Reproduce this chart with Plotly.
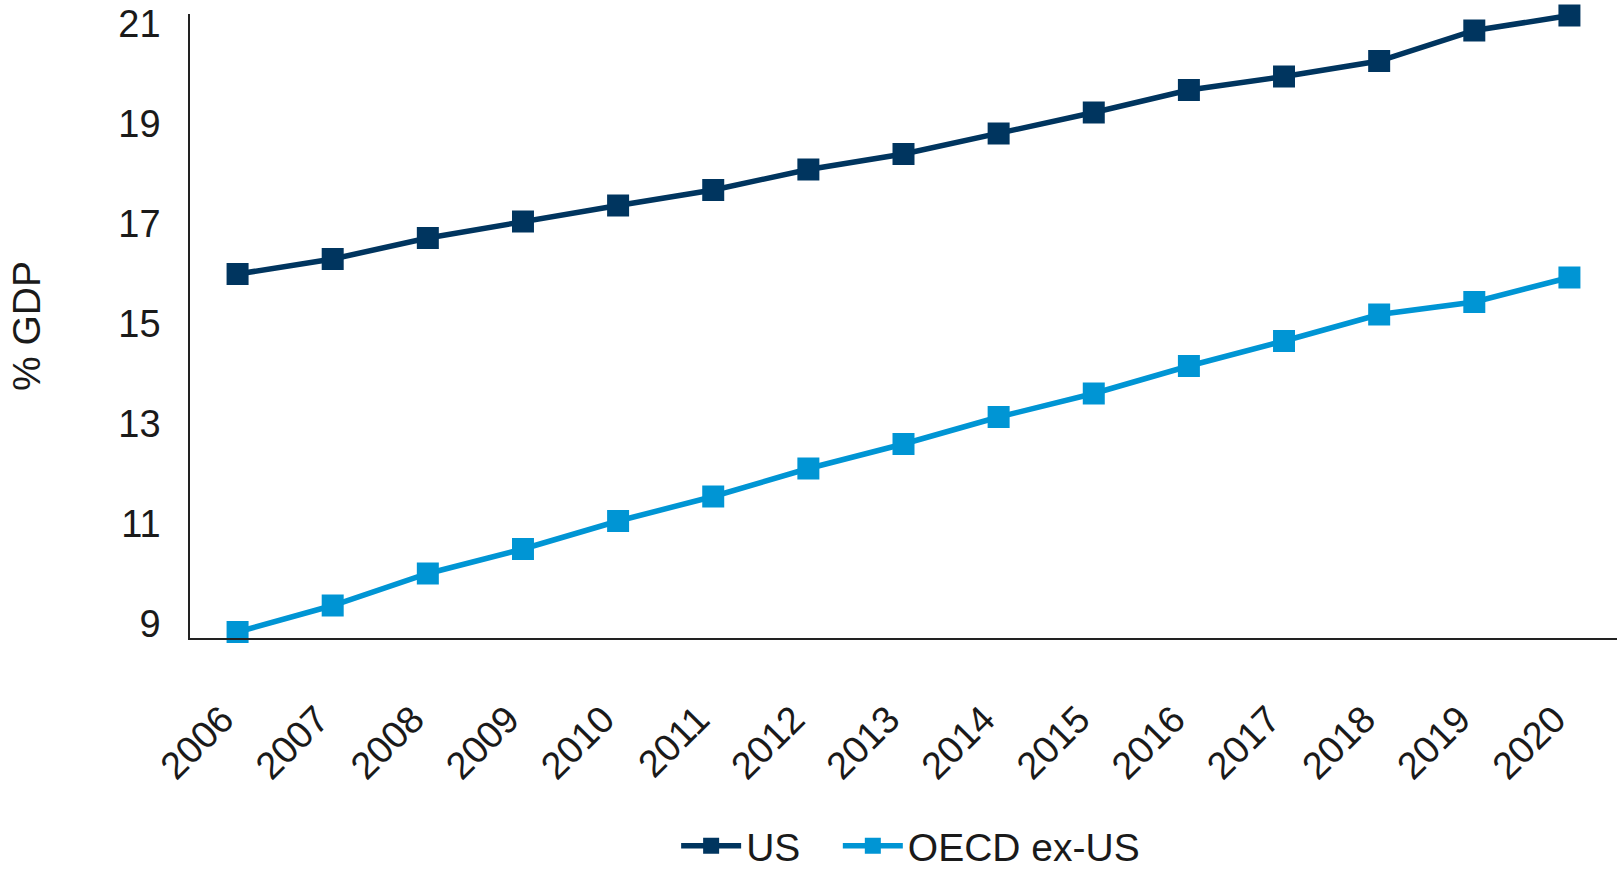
import plotly.graph_objects as go

years = ["2006", "2007", "2008", "2009", "2010", "2011", "2012", "2013",
         "2014", "2015", "2016", "2017", "2018", "2019", "2020"]
us = [16.0, 16.3, 16.72, 17.05, 17.37, 17.68, 18.09, 18.40,
      18.81, 19.23, 19.68, 19.95, 20.26, 20.87, 21.17]
oecd_ex_us = [8.84, 9.37, 10.01, 10.50, 11.06, 11.55, 12.11, 12.60,
              13.14, 13.61, 14.16, 14.66, 15.19, 15.44, 15.93]
y_ticks = [9, 11, 13, 15, 17, 19, 21]

US_COLOR = "#00355f"
OECD_COLOR = "#0095d4"
FONT = "Liberation Sans, Arial, Helvetica, sans-serif"
TXT = "#1a1a1a"
NB = "\u00a0"

fig = go.Figure()
fig.add_trace(go.Scatter(
    x=years, y=us, name="US" + NB * 3, mode="lines+markers",
    line=dict(color=US_COLOR, width=5.5),
    marker=dict(symbol="square", size=22, color=US_COLOR),
    cliponaxis=False,
))
fig.add_trace(go.Scatter(
    x=years, y=oecd_ex_us, name="OECD ex-US", mode="lines+markers",
    line=dict(color=OECD_COLOR, width=5.5),
    marker=dict(symbol="square", size=22, color=OECD_COLOR),
    cliponaxis=False,
))

fig.update_layout(
    width=1617, height=870,
    margin=dict(l=190, r=0, t=14, b=232, autoexpand=False),
    paper_bgcolor="white", plot_bgcolor="white",
    font=dict(family=FONT, size=38, color=TXT),
    showlegend=True,
    legend=dict(orientation="h", x=0.505, xanchor="center", y=-0.333, yanchor="middle",
                font=dict(size=39, color=TXT), itemwidth=60, tracegroupgap=0,
                bgcolor="rgba(0,0,0,0)"),
    xaxis=dict(
        type="category", range=[-0.5, 14.5], automargin=False,
        tickvals=years, ticktext=[y + NB * 2 for y in years],
        showline=True, linecolor="#222", linewidth=1.5,
        showgrid=False, zeroline=False, ticks="",
        tickangle=-45, tickfont=dict(size=38, color=TXT),
        ticklabelstandoff=27, ticklabeloverflow="allow",
    ),
    yaxis=dict(
        range=[8.72, 21.2], automargin=False,
        tickvals=y_ticks, ticktext=[str(v) for v in y_ticks],
        showline=True, linecolor="#222", linewidth=1.5,
        showgrid=False, zeroline=False, ticks="",
        tickfont=dict(size=38, color=TXT),
        ticklabelstandoff=20, ticklabeloverflow="allow",
        title=dict(text="% GDP", font=dict(size=39, color=TXT), standoff=66),
    ),
)

fig.write_html(
    "out.html",
    config={"displayModeBar": False},
    post_script="document.body.style.margin='0';document.body.style.overflow='hidden';",
)
